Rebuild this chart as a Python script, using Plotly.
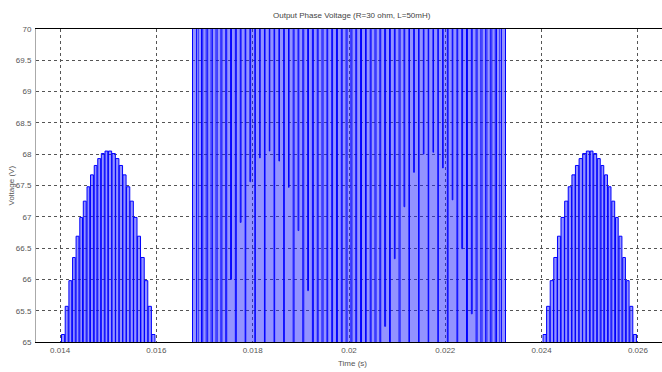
import plotly.graph_objects as go

# ---------------- data (times in ms, voltages in V) ----------------
HIGH_V = 72.0  # upper switching level (above the visible range)

# arch around 0.015 s : PWM pulses (centre, width, top value)
arch1_center_ms = [14.0625, 14.1375, 14.2125, 14.2875, 14.3625, 14.4375, 14.5125, 14.5875, 14.6625,
                   14.7375, 14.8125, 14.8875, 14.9625, 15.0375, 15.1125, 15.1875, 15.2625, 15.3375,
                   15.4125, 15.4875, 15.5625, 15.6375, 15.7125, 15.7875, 15.8625, 15.9375]
arch1_width_ms = [0.066, 0.062, 0.058, 0.056, 0.060, 0.056, 0.060, 0.056, 0.060, 0.056, 0.060, 0.062, 0.058,
                  0.068, 0.070, 0.068, 0.070, 0.066, 0.070, 0.068, 0.070, 0.066, 0.070, 0.068, 0.068, 0.066]
arch_top_v = [65.12, 65.57, 65.98, 66.35, 66.69, 66.99, 67.25, 67.48, 67.67, 67.82, 67.93, 68.01, 68.05,
              68.05, 68.01, 67.93, 67.82, 67.67, 67.48, 67.25, 66.99, 66.69, 66.35, 65.98, 65.57, 65.12]

# arch around 0.025 s
arch4_center_ms = [24.0625, 24.1375, 24.2125, 24.2875, 24.3625, 24.4375, 24.5125, 24.5875, 24.6625,
                   24.7375, 24.8125, 24.8875, 24.9625, 25.0375, 25.1125, 25.1875, 25.2625, 25.3375,
                   25.4125, 25.4875, 25.5625, 25.6375, 25.7125, 25.7875, 25.8625, 25.9375]
arch4_width_ms = [0.066, 0.068, 0.068, 0.070, 0.066, 0.070, 0.068, 0.070, 0.066, 0.070, 0.068, 0.070, 0.068,
                  0.058, 0.062, 0.060, 0.056, 0.060, 0.056, 0.060, 0.056, 0.060, 0.056, 0.058, 0.062, 0.066]

# middle block (high level) with notches down to the lower level
mid_start_ms = 16.75
mid_end_ms = 23.25
notch_center_ms = [16.85, 16.95, 17.05, 17.15, 17.25, 17.35, 17.45, 17.55, 17.65, 17.75, 17.85, 17.95,
                   18.05, 18.15, 18.25, 18.35, 18.45, 18.55, 18.65, 18.75, 18.85, 18.95, 19.05, 19.15,
                   19.25, 19.35, 19.45, 19.55, 19.65, 19.75, 19.85, 19.95, 20.05, 20.15, 20.25, 20.35,
                   20.45, 20.55, 20.65, 20.75, 20.85, 20.95, 21.05, 21.15, 21.25, 21.35, 21.45, 21.55,
                   21.65, 21.75, 21.85, 21.95, 22.05, 22.15, 22.25, 22.35, 22.45, 22.55, 22.65, 22.75,
                   22.85, 22.95, 23.05, 23.15]
notch_width_ms = [0.030, 0.025, 0.030, 0.025, 0.022, 0.020, 0.020, 0.018, 0.020, 0.015, 0.012, 0.015,
                  0.012, 0.010, 0.012, 0.010, 0.012, 0.010, 0.015, 0.012, 0.018, 0.015, 0.020, 0.018,
                  0.020, 0.018, 0.020, 0.015, 0.018, 0.020, 0.018, 0.020, 0.020, 0.018, 0.020, 0.015,
                  0.018, 0.020, 0.018, 0.020, 0.018, 0.015, 0.020, 0.015, 0.012, 0.015, 0.010, 0.012,
                  0.010, 0.012, 0.010, 0.012, 0.015, 0.012, 0.015, 0.018, 0.020, 0.018, 0.020, 0.022,
                  0.025, 0.030, 0.025, 0.030]
notch_level_v = [0.0, 61.72, 0.0, 63.40, 0.0, 64.83, 0.0, 66.00, 0.0, 66.91, 0.0, 67.56,
                 0.0, 67.94, 0.0, 68.05, 0.0, 67.89, 0.0, 67.47, 0.0, 66.78, 0.0, 65.82,
                 0.0, 64.61, 0.0, 63.14, 0.0, 61.42, 0.0, 59.46, 0.0, 60.47, 0.0, 62.31,
                 0.0, 63.91, 0.0, 65.25, 0.0, 66.33, 0.0, 67.16, 0.0, 67.71, 0.0, 68.00,
                 0.0, 68.03, 0.0, 67.78, 0.0, 67.27, 0.0, 66.49, 0.0, 65.45, 0.0, 64.15,
                 0.0, 62.59, 0.0, 60.80]

x_ticks = [0.014, 0.016, 0.018, 0.020, 0.022, 0.024, 0.026]
x_tick_labels = ["0.014", "0.016", "0.018", "0.02", "0.022", "0.024", "0.026"]
y_ticks = [65, 65.5, 66, 66.5, 67, 67.5, 68, 68.5, 69, 69.5, 70]
y_tick_labels = ["65", "65.5", "66", "66.5", "67", "67.5", "68", "68.5", "69", "69.5", "70"]

# ---------------- build step waveform ----------------
xs, ys = [13.5], [0.0]


def add_pulses(centers, widths, tops):
    for c, w, v in zip(centers, widths, tops):
        a, b = c - w / 2, c + w / 2
        xs.extend([a, a, b, b])
        ys.extend([0.0, v, v, 0.0])


add_pulses(arch1_center_ms, arch1_width_ms, arch_top_v)

xs.extend([mid_start_ms, mid_start_ms])
ys.extend([0.0, HIGH_V])
for c, w, lv in zip(notch_center_ms, notch_width_ms, notch_level_v):
    a, b = c - w / 2, c + w / 2
    xs.extend([a, a, b, b])
    ys.extend([HIGH_V, lv, lv, HIGH_V])
xs.extend([mid_end_ms, mid_end_ms])
ys.extend([HIGH_V, 0.0])

add_pulses(arch4_center_ms, arch4_width_ms, arch_top_v)
xs.append(26.5)
ys.append(0.0)

xs_s = [v / 1000.0 for v in xs]

fig = go.Figure()
fig.add_trace(go.Scatter(
    x=xs_s, y=ys, mode="lines",
    line=dict(color="#0000ff", width=1, simplify=False),
    fill="tozeroy", fillcolor="rgba(30,30,255,0.48)",
    hoverinfo="skip", showlegend=False,
))

font_fam = "Liberation Sans Narrow, Liberation Sans, Arial, sans-serif"
fig.update_layout(
    width=662, height=372,
    margin=dict(l=36, r=0, t=29, b=30, autoexpand=False),
    paper_bgcolor="white", plot_bgcolor="white",
    showlegend=False,
    font=dict(family=font_fam, size=8, color="#555555"),
    xaxis=dict(
        range=[0.0135, 0.0265], tickvals=x_ticks, ticktext=x_tick_labels,
        showgrid=True, gridcolor="#555555", griddash="dot", gridwidth=1,
        showline=True, linecolor="#000000", linewidth=1, mirror=True,
        ticks="", zeroline=False, automargin=False,
        tickfont=dict(family=font_fam, size=8, color="#555555"),
    ),
    yaxis=dict(
        range=[65, 70], tickvals=y_ticks, ticktext=y_tick_labels,
        showgrid=True, gridcolor="#555555", griddash="dot", gridwidth=1,
        showline=True, linecolor="#aaaaaa", linewidth=1,
        ticks="", zeroline=False, automargin=False, ticklabelstandoff=2,
        tickfont=dict(family=font_fam, size=8, color="#555555"),
    ),
    annotations=[
        dict(text="Output Phase Voltage (R=30 ohm, L=50mH)", xref="paper", yref="paper",
             x=0.505, y=1, yshift=14, yanchor="middle", showarrow=False,
             font=dict(family=font_fam, size=8, color="#444444")),
        dict(text="Time (s)", xref="paper", yref="paper", x=0.505, y=0, yshift=-21,
             yanchor="middle", showarrow=False,
             font=dict(family=font_fam, size=8, color="#555555")),
        dict(text="Voltage (V)", xref="paper", yref="paper", x=0, xshift=-25, y=0.5,
             xanchor="center", yanchor="middle", textangle=-90, showarrow=False,
             font=dict(family="Liberation Sans, Arial, sans-serif", size=8, color="#555555")),
    ],
)

fig.write_html("out.html", config={"displayModeBar": False},
               post_script="document.body.style.margin='0';")
